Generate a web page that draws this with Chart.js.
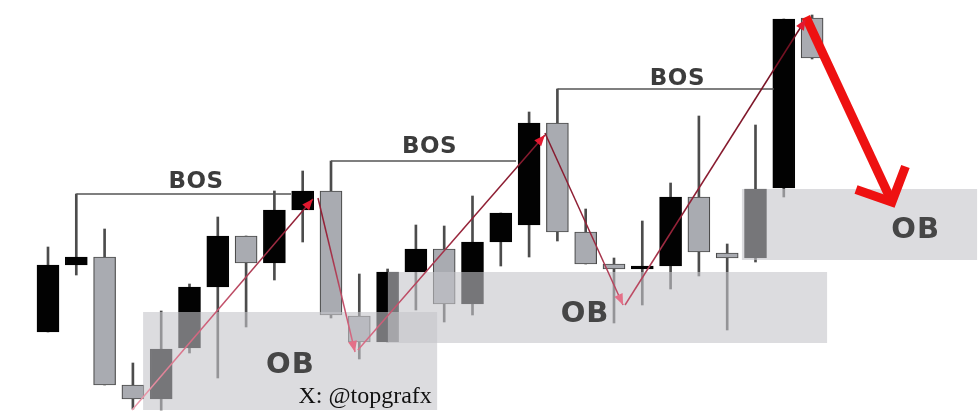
<!DOCTYPE html>
<html>
<head>
<meta charset="utf-8">
<script src="https://cdn.jsdelivr.net/npm/chart.js@4/dist/chart.umd.min.js"></script>
<style>
html,body{margin:0;padding:0;background:#ffffff;}
#wrap{width:980px;height:417px;position:relative;}
</style>
</head>
<body>
<div id="wrap"><canvas id="c"></canvas></div>
<script>
// ---- data (candle index on x, price on y) ----
const candles = ['1','2','3','4','5','6','7','8','9','10','11','12','13','14','15','16','17','18','19','20','21','22','23','24','25','26','27','28'];
const opens  = [85,152,160,32,18,69,130,181,154,207,226,101,75,145,168,113,175,192,294,185,153,148,151,220,164,159,229,399];
const highs  = [170,223,188,54,106,133,200,181,226,246,256,143,148,192,191,221,204,305,328,208,159,196,234,301,173,292,398,402];
const lows   = [85,142,32,8,7,64,39,90,137,175,99,58,75,107,95,102,151,160,176,153,94,112,128,141,87,155,220,358];
const closes = [152,160,32,18,68,130,181,154,207,226,102,75,145,168,113,175,204,294,185,153,148,151,220,165,159,228,398,359];

// break-of-structure levels
const bosStartX = [1, 10, 18];
const bosEndX   = [8.59, 16.54, 25.65];
const bosLevel  = [223, 256, 328];
const bosLabelX = [5.23, 13.48, 22.24];
const bosLabelY = [229.5, 264, 332];
const bosText   = ['BOS', 'BOS', 'BOS'];

// order blocks
const zoneStartX = [3.36, 12.01, 24.52];
const zoneEndX   = [13.75, 27.53, 32.83];
const zoneTop    = [105, 145, 228];
const zoneBottom = [7, 74, 157];
const obLabelX   = [8.55, 18.96, 30.64];
const obLabelY   = [44, 95, 179];
const obText     = ['OB', 'OB', 'OB'];

// swing arrows (last one is the big red one)
const arrowFromX = [2.97, 9.54, 10.95, 17.56, 20.39, 26.78];
const arrowFromY = [7, 219, 67, 284, 112, 400];
const arrowToX   = [9.36, 10.85, 17.56, 20.32, 26.78, 29.82];
const arrowToY   = [218, 65, 282, 112, 398, 215];

const watermark = 'X: @topgrafx';
const watermarkX = 8.85;
const watermarkY = 14;

// ---- chart ----
const isBull = i => closes[i] >= opens[i];
const BLACK = '#020202';
const GRAY = '#a9abb1';

const arrowGradient = (ctx) => {
  const chart = ctx.chart;
  const area = chart.chartArea;
  if (!area) return '#7a1424';
  const g = chart.ctx.createLinearGradient(0, area.bottom, 0, area.top);
  g.addColorStop(0, '#f0a4b4');
  g.addColorStop(0.22, '#d0607a');
  g.addColorStop(0.45, '#952238');
  g.addColorStop(1, '#6a0c1c');
  return g;
};

const datasets = [];
datasets.push({
  label: 'wick', type: 'bar', order: 10, grouped: false,
  data: candles.map((c, i) => ({x: i, y: [lows[i], highs[i]]})),
  backgroundColor: '#4c4c4c', borderWidth: 0, barThickness: 2
});
datasets.push({
  label: 'body', type: 'bar', order: 9, grouped: false,
  data: candles.map((c, i) => ({x: i, y: [opens[i], closes[i]]})),
  backgroundColor: candles.map((c, i) => isBull(i) ? BLACK : GRAY),
  borderColor: candles.map((c, i) => isBull(i) ? BLACK : '#4a4a4a'),
  borderWidth: 1.2, borderSkipped: false, barThickness: 22
});
bosLevel.forEach((lv, k) => {
  datasets.push({
    label: 'bos' + k, type: 'line', order: 5,
    data: [{x: bosStartX[k], y: lv}, {x: bosEndX[k], y: lv}],
    borderColor: '#555555', borderWidth: 1.5, pointRadius: 0, tension: 0, fill: false
  });
});
const arrowIdx = [];
arrowFromX.forEach((fx, k) => {
  const big = k === arrowFromX.length - 1;
  arrowIdx.push(datasets.length);
  datasets.push({
    label: 'arrow' + k, type: 'line', order: big ? 1 : 3,
    data: [{x: fx, y: arrowFromY[k]}, {x: arrowToX[k], y: arrowToY[k]}],
    borderColor: big ? '#ee1111' : arrowGradient,
    borderWidth: big ? 9 : 1.5, pointRadius: 0, tension: 0, fill: false,
    borderCapStyle: 'butt'
  });
});

const overlay = {
  id: 'overlay',
  afterDatasetDraw(chart, args) {
    if (args.index !== 1) return;
    const {ctx, scales: {x, y}} = chart;
    ctx.save();
    ctx.fillStyle = 'rgba(197,197,201,0.6)';
    zoneStartX.forEach((sx, k) => {
      const x0 = x.getPixelForValue(sx), x1 = x.getPixelForValue(zoneEndX[k]);
      const y0 = y.getPixelForValue(zoneTop[k]), y1 = y.getPixelForValue(zoneBottom[k]);
      ctx.fillRect(x0, y0, x1 - x0, y1 - y0);
    });
    ctx.restore();
  },
  afterDatasetsDraw(chart) {
    const {ctx, scales: {x, y}} = chart;
    ctx.save();
    // arrow heads
    arrowIdx.forEach((di, k) => {
      const pts = chart.getDatasetMeta(di).data;
      const p0 = pts[0], p1 = pts[1];
      const ang = Math.atan2(p1.y - p0.y, p1.x - p0.x);
      const big = k === arrowIdx.length - 1;
      if (big) {
        const L = 38, spread = 0.8;
        ctx.strokeStyle = '#ee1111';
        ctx.lineWidth = 9;
        ctx.lineJoin = 'miter';
        ctx.lineCap = 'butt';
        ctx.beginPath();
        ctx.moveTo(p1.x + L * Math.cos(ang + Math.PI - spread), p1.y + L * Math.sin(ang + Math.PI - spread));
        ctx.lineTo(p1.x, p1.y);
        ctx.lineTo(p1.x + L * Math.cos(ang + Math.PI + spread), p1.y + L * Math.sin(ang + Math.PI + spread));
        ctx.stroke();
      } else {
        const L = 11, W = 4.5;
        const bx = p1.x - L * Math.cos(ang), by = p1.y - L * Math.sin(ang);
        ctx.fillStyle = arrowToY[k] > 150 ? '#e3182f' : '#e47088';
        ctx.beginPath();
        ctx.moveTo(p1.x, p1.y);
        ctx.lineTo(bx + W * Math.sin(ang), by - W * Math.cos(ang));
        ctx.lineTo(bx - W * Math.sin(ang), by + W * Math.cos(ang));
        ctx.closePath();
        ctx.fill();
      }
    });
    // labels
    ctx.textAlign = 'center';
    ctx.textBaseline = 'alphabetic';
    ctx.fillStyle = '#3c3c3c';
    ctx.font = 'bold 23px "DejaVu Sans"';
    try { ctx.letterSpacing = '0.5px'; } catch (e) {}
    bosText.forEach((t, k) => ctx.fillText(t, x.getPixelForValue(bosLabelX[k]), y.getPixelForValue(bosLabelY[k])));
    ctx.fillStyle = '#464646';
    ctx.font = 'bold 29px "DejaVu Sans"';
    try { ctx.letterSpacing = '1px'; } catch (e) {}
    obText.forEach((t, k) => ctx.fillText(t, x.getPixelForValue(obLabelX[k]) + 0.5, y.getPixelForValue(obLabelY[k])));
    try { ctx.letterSpacing = '0px'; } catch (e) {}
    ctx.textAlign = 'left';
    ctx.fillStyle = '#111111';
    ctx.font = '24px "Liberation Serif"';
    ctx.fillText(watermark, x.getPixelForValue(watermarkX), y.getPixelForValue(watermarkY));
    ctx.restore();
  }
};

new Chart(document.getElementById('c'), {
  type: 'bar',
  data: { datasets },
  options: {
    responsive: true, maintainAspectRatio: false, animation: false,
    layout: { padding: 0 },
    plugins: { legend: { display: false }, tooltip: { enabled: false } },
    scales: {
      x: { type: 'linear', min: -1.696, max: 32.933, offset: false, display: false },
      y: { type: 'linear', min: 0, max: 417, display: false }
    }
  },
  plugins: [overlay]
});
</script>
</body>
</html>
